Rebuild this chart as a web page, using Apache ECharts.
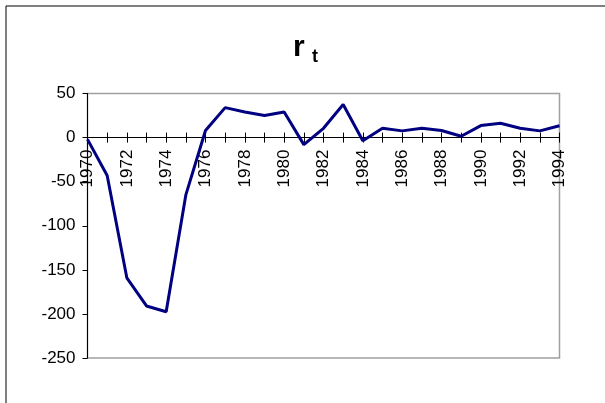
<!DOCTYPE html>
<html>
<head>
<meta charset="utf-8">
<script src="https://cdn.jsdelivr.net/npm/echarts@6/dist/echarts.min.js"></script>
<style>
html,body{margin:0;padding:0;background:#fff;overflow:hidden;}
#c{width:605px;height:403px;}
</style>
</head>
<body>
<div id="c"></div>
<script>
const years = ['1970','1971','1972','1973','1974','1975','1976','1977','1978','1979','1980','1981','1982','1983','1984','1985','1986','1987','1988','1989','1990','1991','1992','1993','1994'];
const rt = [-2, -43, -159, -191, -197.5, -65, 8, 34, 29, 25, 29, -8, 10.5, 37.5, -3.5, 10.5, 7.6, 10.5, 8, 1.5, 13.6, 16.2, 10.5, 7.6, 13.5];
const yTicks = {min: -250, max: 50, step: 50};

const chart = echarts.init(document.getElementById('c'), null, {renderer: 'canvas'});
const font = 'Liberation Sans, Arial, sans-serif';
const gridBox = {left: 87.5, top: 93.5, width: 472, height: 264.5, containLabel: false, outerBoundsMode: 'none'};
// distance from the bottom of the plot to the zero line, derived from the y scale
const zeroOffset = -gridBox.height * (0 - yTicks.min) / (yTicks.max - yTicks.min);
const hiddenY = (gi) => ({
  type: 'value', gridIndex: gi, min: yTicks.min, max: yTicks.max, interval: yTicks.step,
  axisLine: {show: false, onZero: false}, axisTick: {show: false}, axisLabel: {show: false}, splitLine: {show: false}
});
chart.setOption({
  animation: false,
  backgroundColor: '#fff',
  graphic: [
    {type: 'rect', shape: {x: 6, y: 6, width: 700, height: 500}, style: {fill: 'none', stroke: '#000', lineWidth: 1}, silent: true},
    {type: 'text', left: 293, top: 33, style: {text: 'r', font: 'bold 30px ' + font, fill: '#000'}},
    {type: 'text', left: 312, top: 48, style: {text: 't', font: 'bold 18px ' + font, fill: '#000'}}
  ],
  grid: [
    Object.assign({show: true, borderColor: '#a0a0a0', borderWidth: 1.5, backgroundColor: 'transparent'}, gridBox),
    Object.assign({show: false}, gridBox)
  ],
  xAxis: [
    {
      type: 'category', data: years, boundaryGap: false, position: 'bottom', gridIndex: 0,
      offset: zeroOffset,
      axisLine: {onZero: false, lineStyle: {color: '#000', width: 1}},
      axisTick: {show: true, interval: 0, length: 5, lineStyle: {color: '#000'}},
      axisLabel: {interval: 1, rotate: 90, margin: 12, color: '#000', fontSize: 17, fontFamily: font},
      splitLine: {show: false}
    },
    {
      type: 'category', data: years, boundaryGap: false, position: 'top', gridIndex: 1,
      axisLine: {onZero: true, lineStyle: {color: '#000', width: 1}},
      axisTick: {show: true, interval: 0, length: 5, lineStyle: {color: '#000'}},
      axisLabel: {show: false},
      splitLine: {show: false}
    }
  ],
  yAxis: [
    {
      type: 'value', gridIndex: 0, min: yTicks.min, max: yTicks.max, interval: yTicks.step,
      axisLine: {show: true, onZero: false, lineStyle: {color: '#000', width: 1}},
      axisTick: {show: true, length: 5, lineStyle: {color: '#000'}},
      axisLabel: {color: '#000', fontSize: 17, fontFamily: font, margin: 12},
      splitLine: {show: false}
    },
    hiddenY(1)
  ],
  series: [{
    type: 'line', data: rt, xAxisIndex: 0, yAxisIndex: 0, showSymbol: false, symbol: 'none',
    lineStyle: {color: '#000080', width: 3}, z: 3
  }]
});
</script>
</body>
</html>
